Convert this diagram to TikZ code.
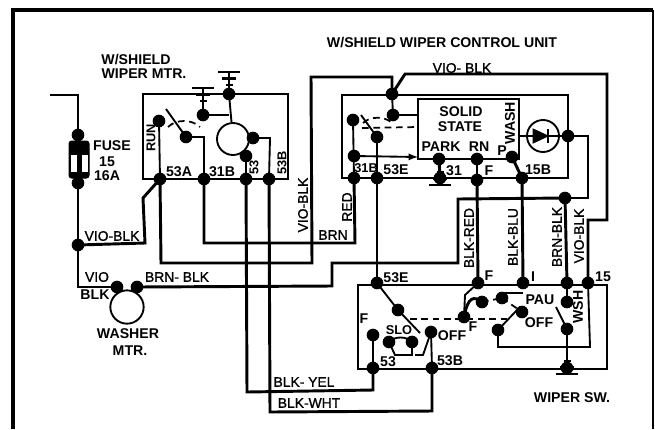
\documentclass[tikz,border=0pt]{standalone}
\usepackage{fontspec}
\setmainfont{Liberation Sans}
\tikzset{every picture/.style={line width=0.75pt}}
\tikzset{
  dot/.style={circle,fill=black,inner sep=0pt,minimum size=9.5pt},
  wire/.style={line width=2.2pt},
  thinbox/.style={line width=1.4pt},
  dashwire/.style={line width=1.3pt,dash pattern=on 5pt off 3.5pt},
  heading/.style={inner sep=0pt,font=\bfseries\fontsize{10.6}{11}\selectfont},
  small/.style={inner sep=0pt,font=\bfseries\fontsize{9.6}{10}\selectfont},
  wirelabel/.style={inner sep=0pt,font=\fontsize{10.4}{11}\selectfont\addfontfeatures{FakeBold=1.2}},
  gnd/.pic={
    \draw[line width=2.2pt] (-11,0) -- (11,0);
    \draw[line width=2.2pt] (-7,6.5) -- (7,6.5);
    \draw[line width=2.2pt] (-3.5,13) -- (3.5,13);
  }
}
\begin{document}
\begin{tikzpicture}[x=0.75pt,y=0.75pt,yscale=-1,xscale=1]
\useasboundingbox (0,0) rectangle (655,429);

%Shape: outer frame
\draw [line width=3.2pt] (13,429) -- (13,10) -- (653,10);
\draw [line width=1.2pt] (653,10) -- (653,429);

%Shape: boxes
\draw [thinbox] (143,94) rectangle (288,179);
\draw [thinbox] (342,95) rectangle (568,178);
\draw [thinbox] (418,99) rectangle (519,159);
\draw [thinbox] (358,285) rectangle (607,369);

%Shape: motor circles
\node (wiperMtr) [circle,draw,thinbox,inner sep=0pt,minimum size=24pt] at (233,139) {};
\node (washerMtr) [circle,draw,thinbox,inner sep=0pt,minimum size=25pt] at (127,307) {};
\node (diodeRing) [circle,draw,thinbox,inner sep=0pt,minimum size=24pt] at (543,136) {};

% Dots on wiper motor
\node (fuseTop) [dot] at (78,135) {};
\node (fuseBot) [dot] at (78,183) {};
\node (mtrGndA) [dot] at (229,94) {};
\node (mtrGndB) [dot] at (203,115) {};
\node (mtrRun) [dot] at (159,121) {};
\node (mtrArm) [dot] at (186,137) {};
\node (mtrR) [dot] at (253,138) {};
\node (mtrS) [dot] at (246,156) {};
\node (mtrA53) [dot] at (160,179) {};
\node (mtrB31) [dot] at (204,179) {};
\node (mtrP53) [dot] at (246,179) {};
\node (mtrB53) [dot] at (269,179) {};
\node (spliceVio) [dot] at (78,245) {};
\node (washL) [dot] at (117,287) {};
\node (washR) [dot] at (137,287) {};

% Dots on control unit
\node (cuTop) [dot] at (392,94) {};
\node (cuUp) [dot] at (393,115) {};
\node (cuRun) [dot] at (353,120) {};
\node (cuArm) [dot] at (377,137) {};
\node (cuMid) [dot] at (354,156) {};
\node (cuB31) [dot] at (354,178) {};
\node (cuE53) [dot] at (377,178) {};
\node (cuPark) [dot] at (439,159) {};
\node (cuRn) [dot] at (477,159) {};
\node (cuP) [dot] at (512,157) {};
\node (cuG31) [dot] at (440,178) {};
\node (cuF) [dot] at (477,180) {};
\node (cuB15) [dot] at (522,178) {};
\node (cuDiode) [dot] at (568,136) {};
\node (spliceBrn) [dot] at (565,198) {};

% Dots on wiper switch
\node (swE53) [dot] at (377,283) {};
\node (swF) [dot] at (478,283) {};
\node (swI) [dot] at (523,283) {};
\node (swBrn) [dot] at (567,283) {};
\node (sw15) [dot] at (588,283) {};
\node (swSlo) [dot] at (398,310) {};
\node (swFa) [dot] at (464,317) {};
\node (swFb) [dot] at (482,302) {};
\node (swPau) [dot] at (502,298) {};
\node (swOffU) [dot] at (522,312) {};
\node (swOffD) [dot] at (498,330) {};
\node (swWshU) [dot] at (567,302) {};
\node (swWshD) [dot] at (567,329) {};
\node (sw53U) [dot] at (373,335) {};
\node (sw53D) [dot] at (373,368) {};
\node (sw53BU) [dot] at (431,332) {};
\node (sw53BD) [dot] at (432,368) {};
\node (swCa) [dot] at (389,342) {};
\node (swCb) [dot] at (412,342) {};
\node (swGnd) [dot] at (567,368) {};

% Free ends
\coordinate (wireIn) at (50,95);
\coordinate (mtrArmEnd) at (166,109);
\coordinate (cuArmEnd) at (361,115);
\coordinate (cuDashA) at (362,128);
\coordinate (cuDashB) at (418,127);
\coordinate (cuArrowEnd) at (418,157);
\coordinate (diodeL) at (519,136);
\coordinate (swArmEnd) at (420,333);
\coordinate (swDashA) at (410,319);
\coordinate (swDashB) at (510,319);
\coordinate (swOffEnd) at (517,310);
\coordinate (swWshEnd) at (556,307);
\coordinate (gndStemA) at (203,88);
\coordinate (gndStemB) at (229,72);
\coordinate (gndStemC) at (440,185);
\coordinate (gndStemD) at (567,374);

%Straight Lines: grounds
\draw [thinbox] (mtrGndB.center) -- (203,94);
\draw [wire] (203,94) -- (gndStemA);
\draw [wire] (mtrGndA.center) -- (gndStemB);
\draw [wire] (cuG31.center) -- (gndStemC);
\draw [wire] (swGnd.center) -- (gndStemD);
\path (gndStemA) pic [rotate=180] {gnd};
\path (gndStemB) pic [rotate=180] {gnd};
\path (gndStemC) pic {gnd};
\path (gndStemD) pic {gnd};

%Shape: fuse
\draw [wire] (wireIn) -- (78,95) -- (fuseTop.center);
\draw [fill=black,rounded corners=2pt] (69,141) rectangle (89,178);
\draw [white,fill=white] (71,155) rectangle (76,171);
\draw [white,fill=white] (82,155) rectangle (87,171);
\draw [wire] (fuseBot.center) -- (spliceVio.center);
\draw [wire] (spliceVio.center) -- (78,287) -- (washL.center);

%Straight Lines: inside wiper motor
\draw [thinbox] (mtrGndB.center) -- (229,115);
\draw [thinbox] (mtrGndA.center) -- (wiperMtr);
\draw [thinbox] (mtrRun.center) -- (mtrA53.center);
\draw [thinbox] (mtrArmEnd) -- (mtrArm.center) -- (204,137) -- (mtrB31.center);
\draw [dashwire] (168,127) .. controls (176,119) and (192,119) .. (200,127);
\draw [thinbox] (mtrR.center) -- (270,138) -- (mtrB53.center);
\draw [thinbox] (mtrS.center) -- (mtrP53.center);

%Straight Lines: inside control unit
\draw [thinbox] (cuTop.center) -- (cuUp.center) -- (418,115);
\draw [thinbox] (cuRun.center) -- (cuB31.center);
\draw [thinbox] (cuArm.center) -- (cuE53.center);
\draw [thinbox] (cuArmEnd) -- (cuArm.center);
\draw [dashwire] (cuDashA) -- (cuDashB);
\draw [dashwire] (363,123) .. controls (370,116) and (385,116) .. (392,123);
\draw [thinbox,-latex] (cuMid.center) -- (cuArrowEnd);
\draw [wire] (cuPark.center) -- (cuG31.center);
\draw [wire] (cuRn.center) -- (cuF.center);
\draw [wire] (cuP.center) -- (cuB15.center);
\draw [thinbox] (diodeL) -- (cuDiode.center);
\draw [fill=black] (533,129) -- (548,136) -- (533,143) -- cycle;
\draw [line width=1.5pt] (548,129) -- (548,143);

%Straight Lines: harness
\draw [wire] (mtrA53.center) -- (143,198) -- (145,243) -- (spliceVio.center);
\draw [wire] (mtrA53.center) -- (161,263) -- (312,263) -- (311,77) -- (392,77) -- (cuTop.center);
\draw [wire] (cuTop.center) -- (405,74) -- (607,74) -- (607,220) -- (588,220) -- (sw15.center);
\draw [wire] (mtrB31.center) -- (204,243) -- (355,243) -- (cuB31.center);
\draw [wire] (mtrP53.center) -- (247,392) -- (373,390) -- (sw53D.center);
\draw [wire] (mtrB53.center) -- (270,412) -- (432,411) -- (sw53BD.center);
\draw [wire] (washR.center) -- (332,286) -- (332,263) -- (458,263) -- (458,199) -- (spliceBrn.center);
\draw [wire] (spliceBrn.center) -- (588,198) -- (588,136) -- (cuDiode.center);
\draw [wire] (spliceBrn.center) -- (swBrn.center);
\draw [wire] (cuE53.center) -- (swE53.center);
\draw [wire] (cuF.center) -- (swF.center);
\draw [wire] (cuB15.center) -- (swI.center);

%Straight Lines: inside wiper switch
\draw [thinbox] (swE53.center) -- (swSlo.center) -- (swArmEnd);
\draw [dashwire] (swDashA) -- (swDashB);
\draw [thinbox] (swF.center) -- (465,295) -- (swFa.center);
\draw [wire] (swFa.center) .. controls (468,296) and (474,296) .. (swFb.center);
\draw [dashwire] (swFb.center) -- (swPau.center);
\draw [dashwire] (swPau.center) -- (swOffU.center);
\draw [thinbox] (swPau.center) -- (502,293) -- (523,293);
\draw [thinbox] (swOffD.center) -- (swOffEnd);
\draw [thinbox] (swOffD.center) -- (498,347) -- (590,347) -- (sw15.center);
\draw [thinbox] (swBrn.center) -- (swWshU.center);
\draw [thinbox] (swWshEnd) -- (swWshD.center);
\draw [thinbox] (swWshD.center) -- (swGnd.center);
\draw [thinbox] (sw53U.center) -- (sw53D.center);
\draw [thinbox] (sw53BU.center) -- (sw53BD.center);
\draw [thinbox] (swCa.center) -- (395,355) -- (412,355) -- (swCb.center);
\draw [thinbox] (415,355) -- (423,355) -- (sw53BU.center);
\draw [thinbox] (swCa.center) .. controls (394,336) and (407,336) .. (swCb.center);

% Text Node
\node (txtMtrA) [heading] at (136,60) {W/SHIELD};
\node (txtMtrB) [heading] at (144,74) {WIPER MTR.};
\node (txtUnit) [heading] at (442,43) {W/SHIELD WIPER CONTROL UNIT};
\node (txtFuse) [heading] at (112,146) {FUSE};
\node (txtFuseA) [heading] at (107,162) {15};
\node (txtFuseB) [heading] at (107,176) {16A};
\node (txtRun) [small,rotate=90] at (151,138) {RUN};
\node (txtA53) [heading] at (179,172) {53A};
\node (txtB31) [heading] at (222,172) {31B};
\node (txtP53) [small,rotate=90] at (254,167) {53};
\node (txtB53) [small,rotate=90] at (282,163) {53B};
\node (txtVioA) [wirelabel] at (112,236) {VIO-BLK};
\node (txtVio) [wirelabel] at (97,277) {VIO};
\node (txtBlk) [heading] at (95,295) {BLK};
\node (txtBrnBlk) [wirelabel] at (177,277) {BRN- BLK};
\node (txtWasher) [heading] at (128,334) {WASHER};
\node (txtWashMtr) [heading] at (130,351) {MTR.};
\node (txtVioB) [wirelabel,rotate=90] at (303,205) {VIO-BLK};
\node (txtRed) [wirelabel,rotate=90] at (347,207) {RED};
\node (txtBrn) [wirelabel] at (333,235) {BRN};
\node (txtYel) [wirelabel] at (304,382) {BLK- YEL};
\node (txtWht) [wirelabel] at (309,403) {BLK-WHT};
\node (txtVioC) [wirelabel] at (462,68) {VIO- BLK};
\node (txtSolid) [heading] at (461,112) {SOLID};
\node (txtState) [heading] at (460,127) {STATE};
\node (txtPark) [heading] at (441,147) {PARK};
\node (txtRn) [heading] at (479,147) {RN};
\node (txtWash) [heading,rotate=90] at (510,123) {WASH};
\node (txtP) [heading] at (502,151) {P};
\node (txtCu31) [heading] at (454,171) {31};
\node (txtCuF) [heading] at (489,171) {F};
\node (txtCuB15) [heading] at (538,170) {15B};
\node (txtCuB31) [small] at (366,168) {31B};
\node (txtCuE53) [heading] at (396,170) {53E};
\node (txtBlkRed) [wirelabel,rotate=90] at (469,238) {BLK-RED};
\node (txtBlkBlu) [wirelabel,rotate=90] at (513,237) {BLK-BLU};
\node (txtBrnBlkB) [wirelabel,rotate=90] at (557,237) {BRN-BLK};
\node (txtVioD) [wirelabel,rotate=90] at (579,236) {VIO-BLK};
\node (txtSwE53) [heading] at (396,278) {53E};
\node (txtSwF) [heading] at (489,276) {F};
\node (txtSwI) [heading] at (533,277) {I};
\node (txtSw15) [heading] at (603,277) {15};
\node (txtSwFa) [heading] at (364,319) {F};
\node (txtSlo) [small] at (399,330) {SLO};
\node (txtOffA) [heading] at (452,336) {OFF};
\node (txtSw53) [heading] at (388,362) {53};
\node (txtSw53B) [heading] at (450,361) {53B};
\node (txtSwFb) [heading] at (473,327) {F};
\node (txtPau) [heading] at (540,300) {PAU};
\node (txtOffB) [heading] at (539,323) {OFF};
\node (txtWsh) [heading,rotate=90] at (578,307) {WSH};
\node (txtWiper) [heading] at (572,398) {WIPER SW.};

\end{tikzpicture}
\end{document}
